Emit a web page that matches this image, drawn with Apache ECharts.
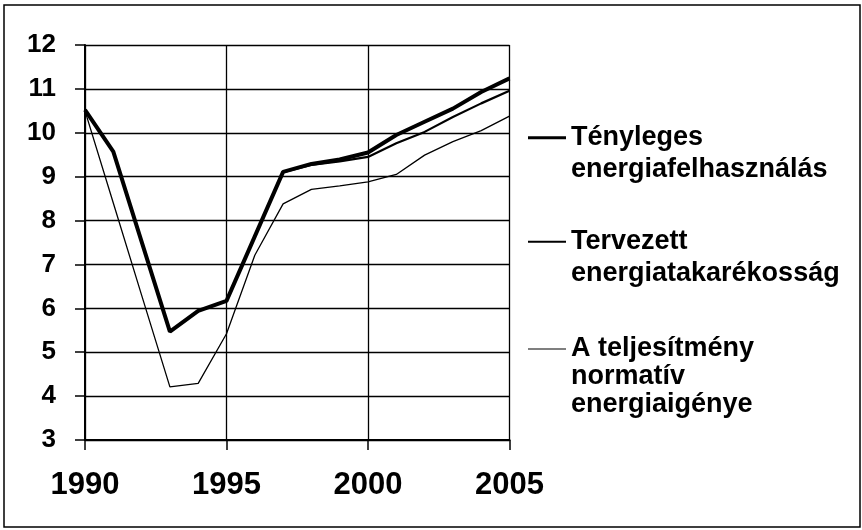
<!DOCTYPE html>
<html>
<head>
<meta charset="utf-8">
<script src="https://cdn.jsdelivr.net/npm/echarts@6/dist/echarts.min.js"></script>
<style>html,body{margin:0;padding:0;background:#fff;}#c{width:862px;height:530px;}</style>
</head>
<body>
<div id="c"></div>
<script>
var years = [1990,1991,1992,1993,1994,1995,1996,1997,1998,1999,2000,2001,2002,2003,2004,2005];
var actualUse = [10.52,9.57,7.52,5.47,5.94,6.17,7.64,9.11,9.29,9.39,9.55,9.95,10.25,10.55,10.93,11.24];
var plannedSaving = [10.52,9.57,7.52,5.47,5.94,6.17,7.64,9.10,9.27,9.35,9.45,9.76,10.02,10.36,10.67,10.96];
var normativeNeed = [10.50,8.40,6.30,4.21,4.29,5.42,7.21,8.38,8.71,8.79,8.88,9.05,9.49,9.80,10.05,10.38];
var xTicks = [1990,1995,2000,2005];
var yTicks = [3,4,5,6,7,8,9,10,11,12];
var seriesNames = ['Tényleges energiafelhasználás','Tervezett energiatakarékosság','A teljesítmény normatív energiaigénye'];
var legendLines = {
  'Tényleges energiafelhasználás': '\nTényleges\nenergiafelhasználás',
  'Tervezett energiatakarékosság': '\nTervezett\nenergiatakarékosság',
  'A teljesítmény normatív energiaigénye': '\n\nA teljesítmény\nnormatív\nenergiaigénye'
};

function pairs(arr){ return years.map(function(y,i){ return [y, arr[i]]; }); }

var FONT = '"Liberation Sans", Arial, sans-serif';
function mkLegend(name, top, h, lh){
  return {
    data: [name], orient: 'vertical', left: 528, top: top,
    icon: 'rect', itemWidth: 38, itemHeight: h, padding: 0,
    selectedMode: false,
    itemStyle: {color: '#000', borderWidth: 0},
    textStyle: {fontFamily: FONT, fontSize: 27, fontWeight: 'bold', color: '#000', lineHeight: lh},
    formatter: function(n){ return legendLines[n]; }
  };
}

var chart = echarts.init(document.getElementById('c'), null, {renderer: 'canvas'});
chart.setOption({
  backgroundColor: '#fff',
  animation: false,
  graphic: [{
    type: 'rect', shape: {x: 4, y: 5, width: 856, height: 522},
    style: {fill: 'none', stroke: '#000', lineWidth: 1.5}, z: -1
  }],
  grid: {left: 85, right: 352.5, top: 45, bottom: 90, containLabel: false},
  legend: [
    mkLegend(seriesNames[0], 89.7, 3, 32),
    mkLegend(seriesNames[1], 193.7, 2, 32),
    mkLegend(seriesNames[2], 279, 1.2, 28)
  ],
  xAxis: {
    type: 'value', min: xTicks[0], max: xTicks[xTicks.length-1], interval: 5,
    axisLine: {show: true, lineStyle: {color: '#000', width: 2}},
    axisTick: {show: true, length: 10, lineStyle: {color: '#000', width: 1.5}},
    splitLine: {show: true, lineStyle: {color: '#000', width: 1.3}},
    axisLabel: {margin: 30, fontFamily: FONT, fontSize: 31, fontWeight: 'bold', color: '#000',
      formatter: function(v){ return String(v); }}
  },
  yAxis: {
    type: 'value', min: yTicks[0], max: yTicks[yTicks.length-1], interval: 1,
    axisLine: {show: true, lineStyle: {color: '#000', width: 2}},
    axisTick: {show: true, length: 10, lineStyle: {color: '#000', width: 1.5}},
    splitLine: {show: true, lineStyle: {color: '#000', width: 1.3}},
    axisLabel: {margin: 29, fontFamily: FONT, fontSize: 26, fontWeight: 'bold', color: '#000', padding: [8,0,0,0]}
  },
  series: [
    {name: seriesNames[2], type: 'line', data: pairs(normativeNeed), symbol: 'none',
      lineStyle: {color: '#000', width: 1.3}, itemStyle: {color: '#000'}, z: 2},
    {name: seriesNames[1], type: 'line', data: pairs(plannedSaving), symbol: 'none',
      lineStyle: {color: '#000', width: 2.2}, itemStyle: {color: '#000'}, z: 3},
    {name: seriesNames[0], type: 'line', data: pairs(actualUse), symbol: 'none',
      lineStyle: {color: '#000', width: 4}, itemStyle: {color: '#000'}, z: 4}
  ]
});
</script>
</body>
</html>
